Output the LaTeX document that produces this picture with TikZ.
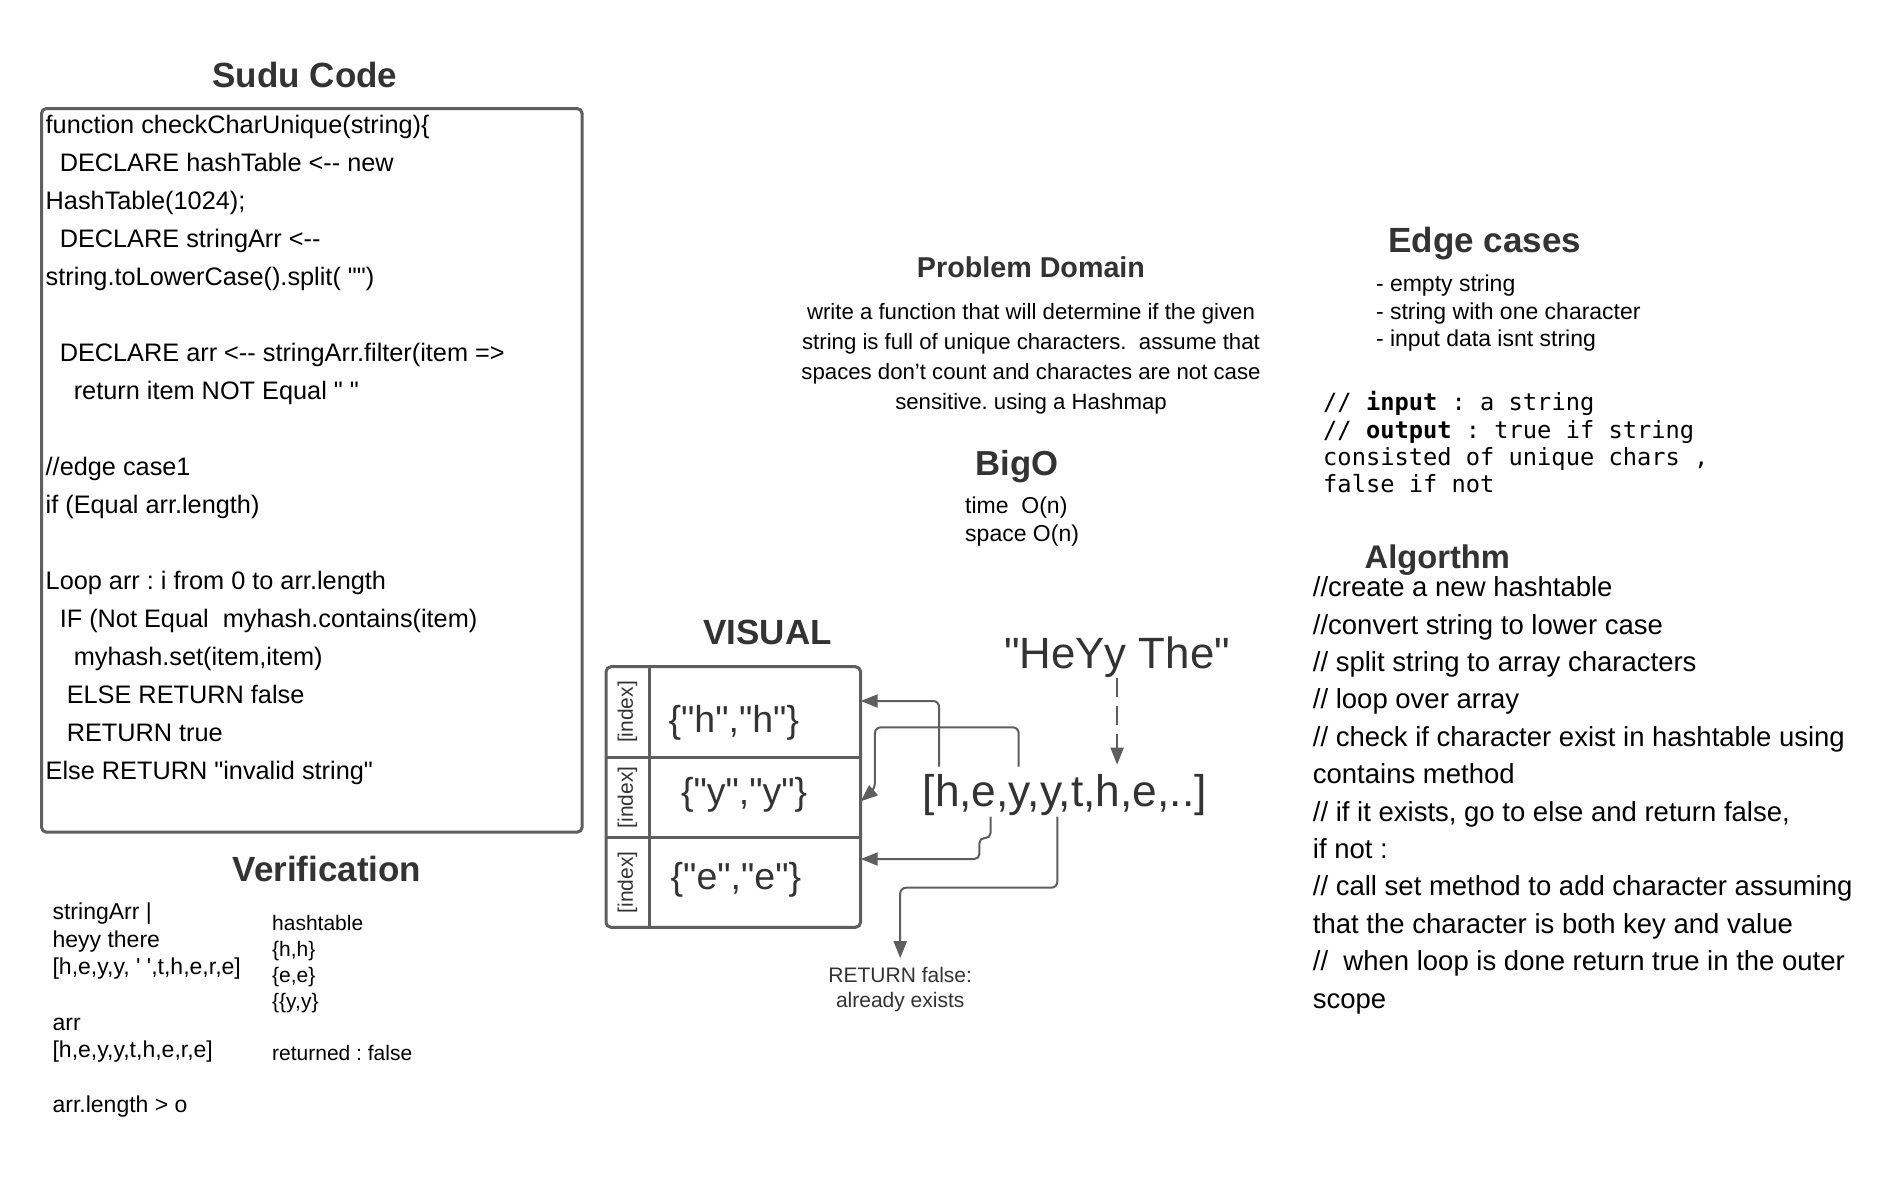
\documentclass[tikz,border=0pt]{standalone}
\usepackage{fontspec}
\setmainfont{Liberation Sans}[Ligatures=TeXOff]
\newfontfamily\monofont{DejaVu Sans Mono}[Ligatures=TeXOff]
\usetikzlibrary{arrows.meta,calc}
\definecolor{cdark}{HTML}{333333}
\definecolor{cline}{HTML}{5E5E5E}
\newcommand\fs[2]{\fontsize{#1}{#2}\selectfont}
\frenchspacing
\begin{document}
\begin{tikzpicture}[x=1pt,y=-1pt,
  title/.style={font=\fs{35}{40}\bfseries, text=cdark, inner sep=0pt, anchor=base},
  codetxt/.style={font=\fs{25.3}{38}, inner sep=0pt, anchor=base west},
  algtxt/.style={font=\fs{27.5}{37}, inner sep=0pt, anchor=base west},
  vltxt/.style={font=\fs{23}{27}, inner sep=0pt, anchor=base west},
  vrtxt/.style={font=\fs{21}{26}, inner sep=0pt, anchor=base west},
  probtxt/.style={font=\fs{22.2}{30}, inner sep=0pt, anchor=base},
  smalltxt/.style={font=\fs{23}{28}, inner sep=0pt, anchor=base west},
  monotxt/.style={font=\monofont\fs{23.7}{27}, inner sep=0pt, anchor=base west},
  bigtxt/.style={font=\fs{43}{50}, text=cdark, inner sep=0pt, anchor=base west},
  celltxt/.style={font=\fs{37.5}{40}, text=cdark, inner sep=0pt, anchor=base west},
  idxtxt/.style={font=\fs{21}{24}, text=cdark, inner sep=0pt, rotate=90},
  cellbox/.style={draw=none, inner sep=0pt, minimum width=211.5pt},
  frame/.style={draw=cline, line width=3pt},
  conn/.style={draw=cline, line width=2pt, rounded corners=6pt, -{Triangle[length=17pt,width=13pt]}}
]
\fill[white] (0,0) rectangle (1903,1192);
\useasboundingbox (0,0) rectangle (1903,1192);

% ---------- Sudu Code ----------
\node[title] (tsudu) at (305,87.6) {Sudu Code};
\node[frame, rounded corners=5pt, anchor=north west, inner sep=0pt,
      minimum width=540.6pt, minimum height=723.7pt] (codebox) at (40,107) {};
\foreach \t [count=\i from 0] in {
  {function checkCharUnique(string)\{},
  {\ \ DECLARE hashTable <-- new},
  {HashTable(1024);},
  {\ \ DECLARE stringArr <--},
  {string.toLowerCase().split( "")},
  {},
  {\ \ DECLARE arr <-- stringArr.filter(item =>},
  {\ \ \ \ return item NOT Equal " "},
  {},
  {//edge case1},
  {if (Equal arr.length)},
  {},
  {Loop arr : i from 0 to arr.length},
  {\ \ IF (Not Equal\ \ myhash.contains(item)},
  {\ \ \ \ myhash.set(item,item)},
  {\ \ \ ELSE RETURN false},
  {\ \ \ RETURN true},
  {Else RETURN "invalid string"}}
  \node[codetxt] (code\i) at (45.5,133+38*\i) {\t};

% ---------- Verification ----------
\node[title] (tverif) at (327,881.5) {Verification};
\node[vltxt] (v1) at (52.4,919.6) {stringArr |};
\node[vltxt] (v2) at (52.4,947.2) {heyy there};
\node[vltxt] (v3) at (52.4,974.8) {[h,e,y,y, ' ',t,h,e,r,e]};
\node[vltxt] (v4) at (52.4,1030) {arr};
\node[vltxt] (v5) at (52.4,1057.6) {[h,e,y,y,t,h,e,r,e]};
\node[vltxt] (v6) at (52.4,1112.8) {arr.length > o};
\node[vrtxt] (w1) at (272,930.9) {hashtable};
\node[vrtxt] (w2) at (272,956.9) {\{h,h\}};
\node[vrtxt] (w3) at (272,982.9) {\{e,e\}};
\node[vrtxt] (w4) at (272,1008.9) {\{\{y,y\}};
\node[vrtxt] (w5) at (272,1060.9) {returned : false};

% ---------- Problem Domain ----------
\node[title, font=\fs{28.7}{34}\bfseries] (tprob) at (1031,277) {Problem Domain};
\foreach \t [count=\i from 0] in {
  {write a function that will determine if the given},
  {string is full of unique characters.\ \ assume that},
  {spaces don’t count and charactes are not case},
  {sensitive. using a Hashmap}}
  \node[probtxt] (prob\i) at (1031,319.7+30*\i) {\t};

% ---------- BigO ----------
\node[title, font=\fs{34.7}{40}\bfseries] (tbig) at (1017,475.5) {BigO};
\node[smalltxt] (btime) at (965,513.3) {time\ \ O(n)};
\node[smalltxt] (bspace) at (965,541) {space O(n)};

% ---------- Edge cases ----------
\node[title] (tedge) at (1484.8,252.7) {Edge cases};
\node[smalltxt] (e1) at (1375.8,291.6) {- empty string};
\node[smalltxt] (e2) at (1375.8,319) {- string with one character};
\node[smalltxt] (e3) at (1375.8,346) {- input data isnt string};
\node[monotxt] (m1) at (1323,410.3) {// \textbf{input} : a string};
\node[monotxt] (m2) at (1323,438) {// \textbf{output} : true if string};
\node[monotxt] (m3) at (1323,465.3) {consisted of unique chars ,};
\node[monotxt] (m4) at (1323,492) {false if not};

% ---------- Algorithm ----------
\node[title, font=\fs{32.7}{38}\bfseries] (talg) at (1437.3,568.5) {Algorthm};
\foreach \t [count=\i from 0] in {
  {//create a new hashtable},
  {//convert string to lower case},
  {// split string to array characters},
  {// loop over array},
  {// check if character exist in hashtable using},
  {contains method},
  {// if it exists, go to else and return false,},
  {if not :},
  {// call set method to add character assuming},
  {that the character is both key and value},
  {//\ \ when loop is done return true in the outer},
  {scope}}
  \node[algtxt] (alg\i) at (1312.7,596.6+37.4*\i) {\t};

% ---------- VISUAL ----------
\node[title] (tvis) at (767.5,644.8) {VISUAL};
\draw[frame, rounded corners=5pt] (606,666.7) rectangle (860.5,927.3);
\draw[frame] (649,666.7) -- (649,927.3);
\draw[frame] (606,757.3) -- (860.5,757.3);
\draw[frame] (606,837.3) -- (860.5,837.3);
\node[cellbox, minimum height=90.6pt] (cellh) at (754.75,712) {};
\node[cellbox, minimum height=80pt] (celly) at (754.75,797.3) {};
\node[cellbox, minimum height=90pt] (celle) at (754.75,882.3) {};
\node[idxtxt] (ix1) at (627.5,712) {[index]};
\node[idxtxt] (ix2) at (627.5,797.3) {[index]};
\node[idxtxt] (ix3) at (627.5,882.3) {[index]};
\node[celltxt] (th) at (668.4,732.3) {\{"h","h"\}};
\node[celltxt] (ty) at (680.8,804) {\{"y","y"\}};
\node[celltxt] (te) at (670.5,889) {\{"e","e"\}};

\node[bigtxt, font=\fs{43.8}{50}] (heyy) at (1004,668.3) {"HeYy The"};
\node[bigtxt, font=\fs{44.3}{50}, inner ysep=9pt] (arr) at (922.5,806) {[h,e,y,y,t,h,e,..]};
\node[font=\fs{21}{25}, text=cdark, anchor=base, inner xsep=0pt, inner ysep=9pt] (ret) at (900.2,982.6) {RETURN false:};
\node[font=\fs{21}{25}, text=cdark, anchor=base, inner sep=0pt] (ret2) at (900.2,1007.6) {already exists};

\coordinate (ah) at (939.1,766.7);
\coordinate (ay1) at (1018.7,766.7);
\coordinate (ae) at (990.5,816.7);
\coordinate (ay2) at (1057.3,816.7);

\draw[conn, rounded corners=0pt, dash pattern=on 19pt off 9pt] (heyy.south) -- (heyy.south |- arr.north);
\draw[conn] (ah) |- ([yshift=11pt]cellh.east);
\draw[conn] (ay1) -- ++(0,-39.4) -| (874.9,789) -- ([yshift=-4pt]celly.east);
\draw[conn, rounded corners=5pt] (ae) |- ++(-11.1,21.3) |- ([yshift=23.3pt]celle.east);
\draw[conn] (ay2) -- ++(0,71) -| (ret.north);
\end{tikzpicture}
\end{document}
